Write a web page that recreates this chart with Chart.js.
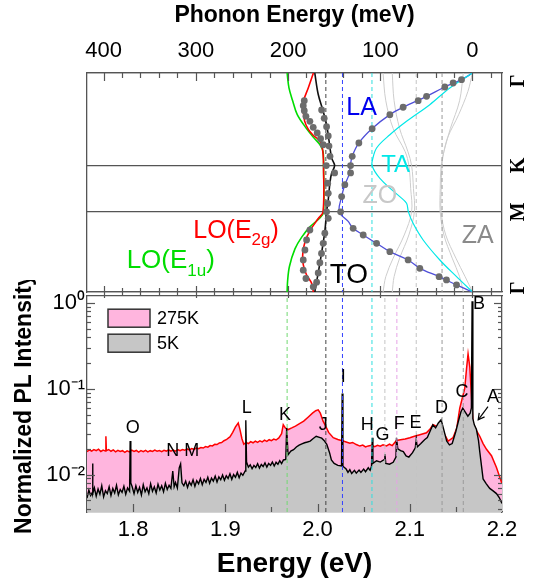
<!DOCTYPE html>
<html>
<head>
<meta charset="utf-8">
<script src="https://cdn.jsdelivr.net/npm/chart.js@4.4.1/dist/chart.umd.min.js"></script>
<style>
  html, body { margin: 0; padding: 0; background: #fff; }
  #wrap { position: relative; width: 535px; height: 587px; }
  #topBox { position: absolute; left: 0; top: 0; width: 535px; height: 300px; }
  #botBox { position: absolute; left: 0; top: 280px; width: 535px; height: 307px; }
</style>
</head>
<body>
<div id="wrap">
  <div id="topBox"><canvas id="topChart"></canvas></div>
  <div id="botBox"><canvas id="botChart"></canvas></div>
</div>
<script>
// --- axes / ticks ---
const E0 = 2.168;                       // eV, zero of the phonon energy scale (line B)
const eVTicks = [1.8, 1.9, 2.0, 2.1, 2.2];
const meVTicks = [0, 100, 200, 300, 400];
const logTicks = [1, 0.1, 0.01];
const logLabels = ['10⁰', '10⁻¹', '10⁻²'];
const kPoints = [0, 1, 1.5, 2.366];
const kLabels = ['Γ', 'K', 'M', 'Γ'];

// --- phonon dispersion, [k, meV] ---
const loE1u = [[0,201],[0.16,199],[0.3,195],[0.45,190],[0.6,180],[0.7,172],[0.78,165],[0.85,162],[1.0,161.5],[1.5,161.5],[1.56,165],[1.66,176],[1.77,185],[1.9,192.5],[2.09,198.5],[2.25,200.5],[2.366,201]];
const loE2g = [[0,172.5],[0.16,178],[0.31,183.5],[0.41,183.5],[0.52,182],[0.61,178],[0.67,173],[0.72,167],[0.78,163.5],[0.88,162],[1.0,161.5],[1.5,162],[1.57,167],[1.7,176],[1.82,181.5],[1.95,184],[2.07,183.5],[2.18,180],[2.27,174.5],[2.366,172.5]];
const toBranch = [[0,171],[0.23,167.3],[0.41,162],[0.56,158.2],[0.67,156.4],[0.81,154.5],[0.92,152.7],[1.0,149.5],[1.08,152.7],[1.18,154.5],[1.37,156.4],[1.5,158.2],[1.7,160],[1.95,163.7],[2.16,167.3],[2.366,171]];
const laBranch = [[0,0],[0.072,11.9],[0.151,30],[0.252,49.8],[0.37,75.2],[0.45,89.6],[0.6,108.8],[0.756,123.2],[0.9,130.4],[1.0,132.5],[1.1,134],[1.207,138.4],[1.335,141.9],[1.5,144.5],[1.6,135],[1.678,129.4],[1.75,118.5],[1.84,104],[1.93,89.6],[2.02,69.8],[2.11,57.1],[2.2,36.2],[2.29,17.3],[2.366,0]];
const taBranch = [[0,0],[0.162,24.6],[0.342,46.3],[0.522,71.5],[0.667,89.6],[0.81,104],[0.954,108.8],[1.0,108.8],[1.066,105.8],[1.138,100.4],[1.228,91.4],[1.336,78.8],[1.408,71.5],[1.5,69.5],[1.624,64.4],[1.804,53.5],[2.02,35.4],[2.2,17.3],[2.366,0]];
const zoBranchA = [[0,97],[0.3,94],[0.6,86],[0.85,73],[1.0,69],[1.25,67],[1.5,66],[1.75,74],[2.0,86],[2.2,94],[2.366,97]];
const zoBranchB = [[0,87],[0.3,85],[0.6,79],[0.85,70],[1.0,66],[1.25,64],[1.5,63],[1.75,69],[2.0,79],[2.2,85],[2.366,87]];
const zaBranchA = [[0,0],[0.2,5],[0.45,15],[0.7,27],[0.9,32],[1.0,33],[1.25,34],[1.5,34],[1.75,29],[2.0,18],[2.2,8],[2.366,0]];
const zaBranchB = [[0,10],[0.3,14],[0.6,24],[0.85,31],[1.0,34],[1.25,35],[1.5,35],[1.75,31],[2.0,22],[2.2,14],[2.366,10]];
const loDots = [[0.299,182.4],[0.353,183.5],[0.407,182.4],[0.468,180.6],[0.522,176.3],[0.587,172.7],[0.648,168.4],[0.71,164.7],[0.775,161.9],[1.696,176.3],[1.804,179.9],[1.912,181.7],[2.02,183.5],[2.13,183.5],[2.22,180.6],[2.31,172.7]];
const toDots = [[0.40,163.6],[0.49,160.8],[0.58,158.2],[0.68,156.4],[0.79,155.6],[0.90,154.5],[1.0,158.5],[1.08,149.5],[1.19,157],[1.30,156.4],[1.41,157.1],[1.5,158.2],[1.57,156.4],[1.73,160.1],[1.84,161.9],[1.95,163.7],[2.05,165.5],[2.16,167.3],[2.26,169]];
const laDots = [[0.072,11.9],[0.108,21],[0.151,30],[0.252,49.8],[0.299,58.9],[0.37,75.2],[0.45,89.6],[0.602,108.8],[0.756,123.2],[0.9,130.4],[1.0,132.2],[1.08,132.2],[1.207,138.4],[1.335,141.9],[1.5,143],[1.678,129.4],[1.75,118.5],[1.84,104],[1.93,89.6],[2.02,69.8],[2.11,57.1],[2.2,36.2],[2.236,28.2],[2.29,17.3]];

// phonon energies (meV) of the dashed guide lines
const phononLines = [201, 159, 141, 109, 95, 82, 61, 33, 10];

// --- PL spectra ---
const energy275 = [1.750,1.7525,1.755,1.7575,1.760,1.7625,1.765,1.7675,1.770,1.7705,1.771,1.7735,1.776,1.7785,1.781,1.7835,1.786,1.7885,1.791,1.7935,1.796,1.7985,1.801,1.8035,1.806,1.8085,1.811,1.8135,1.816,1.8185,1.821,1.8235,1.826,1.8285,1.831,1.8335,1.836,1.8385,1.841,1.8435,1.846,1.8485,1.851,1.8535,1.856,1.8585,1.861,1.8635,1.866,1.8685,1.871,1.8735,1.876,1.8785,1.881,1.8835,1.886,1.8885,1.891,1.8935,1.896,1.8985,1.901,1.9035,1.905,1.908,1.911,1.914,1.916,1.918,1.920,1.9225,1.925,1.9275,1.930,1.9325,1.935,1.9375,1.940,1.9425,1.945,1.9475,1.950,1.9525,1.955,1.958,1.961,1.9628,1.965,1.9682,1.972,1.976,1.980,1.985,1.990,1.9945,1.998,2.0007,2.003,2.006,2.008,2.012,2.017,2.022,2.0278,2.031,2.035,2.038,2.042,2.0459,2.049,2.052,2.055,2.0586,2.062,2.065,2.068,2.071,2.0748,2.078,2.081,2.0856,2.090,2.095,2.1001,2.105,2.110,2.1181,2.122,2.1253,2.130,2.1344,2.138,2.1416,2.147,2.151,2.1542,2.1596,2.1615,2.1632,2.1651,2.1669,2.1686,2.172,2.1759,2.1795,2.1832,2.1886,2.194,2.1976,2.2];
const pl275 = [0.0185,0.0194,0.0188,0.0196,0.0190,0.0198,0.0186,0.0193,0.0188,0.0280,0.0190,0.0196,0.0187,0.0194,0.0184,0.0192,0.0186,0.0190,0.0182,0.0189,0.0184,0.0193,0.0186,0.0191,0.0183,0.0190,0.0185,0.0192,0.0184,0.0190,0.0186,0.0193,0.0187,0.0191,0.0185,0.0192,0.0188,0.0194,0.0187,0.0193,0.0188,0.0195,0.0190,0.0196,0.0192,0.0199,0.0194,0.0201,0.0197,0.0204,0.0200,0.0207,0.0204,0.0212,0.0209,0.0218,0.0216,0.0225,0.0224,0.0234,0.0236,0.0248,0.0255,0.0268,0.0275,0.0310,0.0360,0.0400,0.0330,0.0262,0.0226,0.0238,0.0230,0.0242,0.0235,0.0246,0.0237,0.0248,0.0241,0.0252,0.0244,0.0255,0.0249,0.0259,0.0253,0.0268,0.0300,0.0382,0.0350,0.0335,0.0350,0.0368,0.0390,0.0420,0.0470,0.0520,0.0555,0.0569,0.0520,0.0420,0.0382,0.0310,0.0269,0.0256,0.0246,0.0240,0.0232,0.0237,0.0224,0.0215,0.0221,0.0210,0.0216,0.0220,0.0212,0.0219,0.0214,0.0222,0.0216,0.0226,0.0218,0.0250,0.0255,0.0260,0.0269,0.0280,0.0290,0.0307,0.0340,0.0382,0.0362,0.0350,0.0290,0.0246,0.0270,0.0350,0.0594,0.1010,0.1700,0.2550,0.1790,0.0810,0.0400,0.0330,0.0280,0.0230,0.0197,0.0166,0.0121,0.0093,0.0078];
const energy5 = [1.750,1.752,1.754,1.7555,1.7560,1.7565,1.758,1.760,1.762,1.764,1.766,1.768,1.770,1.772,1.774,1.776,1.778,1.780,1.782,1.784,1.786,1.788,1.790,1.792,1.794,1.7962,1.7968,1.7975,1.799,1.801,1.803,1.805,1.807,1.809,1.811,1.813,1.815,1.817,1.819,1.821,1.823,1.825,1.827,1.829,1.831,1.833,1.835,1.837,1.839,1.841,1.843,1.8445,1.846,1.848,1.850,1.8515,1.853,1.855,1.857,1.859,1.861,1.863,1.865,1.867,1.869,1.871,1.873,1.875,1.877,1.879,1.881,1.883,1.885,1.887,1.889,1.891,1.893,1.895,1.897,1.899,1.901,1.903,1.905,1.907,1.909,1.911,1.913,1.915,1.917,1.919,1.9215,1.9222,1.923,1.925,1.927,1.929,1.931,1.933,1.935,1.937,1.939,1.941,1.943,1.945,1.947,1.949,1.951,1.953,1.955,1.957,1.959,1.961,1.963,1.9655,1.9665,1.968,1.9710,1.9740,1.9770,1.9800,1.9830,1.9860,1.9890,1.9920,1.9950,1.9985,2.0020,2.0045,2.0070,2.0100,2.0130,2.0150,2.0180,2.0220,2.0260,2.0267,2.0275,2.0310,2.0330,2.0350,2.0370,2.0400,2.0420,2.0450,2.0470,2.0500,2.0520,2.0550,2.0570,2.0585,2.0593,2.0600,2.0640,2.0680,2.0725,2.0730,2.0740,2.0780,2.0820,2.0850,2.0856,2.0870,2.0900,2.0930,2.0960,2.0990,2.1030,2.1060,2.1070,2.1080,2.1120,2.1160,2.1190,2.1220,2.1250,2.1280,2.1310,2.1340,2.1370,2.1400,2.1430,2.1460,2.1500,2.1530,2.1555,2.1575,2.1600,2.1630,2.1655,2.1668,2.1676,2.1684,2.1700,2.1723,2.1745,2.1760,2.1795,2.1830,2.1867,2.1900,2.1940,2.1970,2.2000];
const pl5 = [0.0053,0.0066,0.0057,0.0061,0.0135,0.0060,0.0070,0.0056,0.0068,0.0059,0.0074,0.0055,0.0065,0.0060,0.0072,0.0057,0.0069,0.0061,0.0075,0.0058,0.0067,0.0062,0.0073,0.0059,0.0070,0.0064,0.0247,0.0080,0.0072,0.0060,0.0074,0.0062,0.0071,0.0058,0.0076,0.0063,0.0070,0.0060,0.0078,0.0064,0.0072,0.0061,0.0077,0.0066,0.0074,0.0063,0.0079,0.0067,0.0075,0.0069,0.0110,0.0072,0.0081,0.0070,0.0120,0.0133,0.0080,0.0074,0.0084,0.0071,0.0082,0.0075,0.0087,0.0073,0.0085,0.0078,0.0090,0.0076,0.0088,0.0081,0.0093,0.0079,0.0091,0.0084,0.0096,0.0082,0.0094,0.0087,0.0099,0.0086,0.0097,0.0090,0.0102,0.0088,0.0100,0.0093,0.0106,0.0092,0.0104,0.0098,0.0110,0.0430,0.0140,0.0122,0.0130,0.0117,0.0128,0.0121,0.0134,0.0119,0.0131,0.0124,0.0137,0.0122,0.0135,0.0128,0.0140,0.0126,0.0139,0.0132,0.0145,0.0134,0.0148,0.0150,0.0350,0.0170,0.0188,0.0195,0.0210,0.0220,0.0228,0.0235,0.0240,0.0246,0.0262,0.0280,0.0272,0.0266,0.0250,0.0225,0.0180,0.0148,0.0135,0.0128,0.0126,0.0880,0.0125,0.0116,0.0106,0.0114,0.0103,0.0112,0.0104,0.0113,0.0106,0.0116,0.0108,0.0120,0.0112,0.0125,0.0269,0.0135,0.0145,0.0140,0.0150,0.0173,0.0135,0.0132,0.0139,0.0160,0.0269,0.0200,0.0190,0.0185,0.0165,0.0160,0.0180,0.0205,0.0260,0.0210,0.0230,0.0255,0.0270,0.0320,0.0380,0.0350,0.0400,0.0437,0.0330,0.0246,0.0222,0.0230,0.0320,0.0430,0.0540,0.0594,0.0540,0.0480,0.0520,0.0600,1.0500,0.0450,0.0380,0.0335,0.0250,0.0180,0.0089,0.0078,0.0069,0.0065,0.0060,0.0054,0.0046];

// --- peak labels (E, intensity) ---
const peakNames = ['O','N','M','L','K','J','I','H','G','F','E','D','C','B','A'];
const peakLabelE = [1.7996,1.843,1.8635,1.9231,1.9646,2.0061,2.0278,2.0538,2.0705,2.0885,2.1062,2.1344,2.1567,2.1751,2.1903];
const peakLabelI = [0.035,0.0189,0.0189,0.0605,0.0499,0.0383,0.1374,0.0383,0.0288,0.0389,0.0399,0.0605,0.0924,0.98,0.081];

// --- styles ---
const FONT = "'Liberation Sans', Arial, sans-serif";
Chart.defaults.font.family = FONT;
Chart.defaults.color = '#000';
const AX = { color: '#555', width: 1.3 };
const phononLineStyle = [
  { c: '#72d872', top: false }, { c: '#444', top: true }, { c: '#3340ff', top: true },
  { c: '#30dede', top: true }, { c: '#c4c4c4', top: false }, { c: '#e6a3e6', top: false },
  { c: '#c4c4c4', top: true }, { c: '#9a9a9a', top: true }, { c: '#9a9a9a', top: false }
];

const meVMin = (E0 - 2.2) * 1000, meVMax = (E0 - 1.75) * 1000;
const kEnd = kPoints[kPoints.length - 1];
const yMin = 0.00366, yMax = 1.236;

// ===== top panel: phonon dispersion =====
function branch(pairs, color, width, order) {
  return {
    data: pairs.map(p => ({ x: p[1], y: p[0] })),
    borderColor: color, borderWidth: width, pointRadius: 0,
    tension: 0.35, fill: false, order, xAxisID: 'xm', yAxisID: 'k'
  };
}
function dots(pairs) {
  return {
    data: pairs.map(p => ({ x: p[1], y: p[0] })),
    showLine: false, pointRadius: 3.4, pointBackgroundColor: '#6c6c6c',
    pointBorderWidth: 0, order: 0, xAxisID: 'xm', yAxisID: 'k'
  };
}
const topSets = [];
[zoBranchA, zoBranchB, zaBranchA, zaBranchB].forEach(b => topSets.push(branch(b, '#cdcdcd', 1, 5)));
phononLines.forEach((v, i) => {
  if (!phononLineStyle[i].top) return;
  topSets.push({
    data: [{ x: v, y: 0 }, { x: v, y: kEnd }], borderColor: phononLineStyle[i].c,
    borderWidth: 1, borderDash: [4, 3], pointRadius: 0, order: 4, xAxisID: 'xm', yAxisID: 'k'
  });
});
topSets.push(branch(taBranch, '#00e8e8', 1.2, 2));
topSets.push(branch(laBranch, '#4f4fd8', 1.3, 2));
topSets.push(branch(loE1u, '#00dd00', 1.6, 2));
topSets.push(branch(loE2g, '#ff0000', 1.6, 1));
topSets.push(branch(toBranch, '#111', 1.6, 1));
topSets.push(dots(loDots), dots(toDots), dots(laDots));

function subText(ctx, parts, x, y, big, small) {
  let cx = x;
  parts.forEach(p => {
    ctx.font = (p.sub ? small : big) + 'px ' + FONT;
    ctx.fillText(p.t, cx, p.sub ? y + big * 0.28 : y);
    cx += ctx.measureText(p.t).width;
  });
}

const topDecor = {
  id: 'topDecor',
  afterDraw(chart) {
    const { ctx, chartArea: a, scales } = chart;
    const xs = scales.xm, ks = scales.kr;
    ctx.save();
    ctx.strokeStyle = AX.color; ctx.lineWidth = 1.2;
    for (let v = -20; v <= 400; v += 20) {
      const px = Math.round(xs.getPixelForValue(v)) + 0.5;
      const major = v % 100 === 0;
      ctx.beginPath(); ctx.moveTo(px, a.top); ctx.lineTo(px, a.top + (major ? 8 : 5)); ctx.stroke();
      ctx.beginPath(); ctx.moveTo(px, a.bottom - (major ? 6 : 4)); ctx.lineTo(px, a.bottom + (major ? 6 : 3)); ctx.stroke();
    }
    // branch names
    const P = (m, k) => [xs.getPixelForValue(m), ks.getPixelForValue(k)];
    ctx.textBaseline = 'alphabetic'; ctx.textAlign = 'center';
    const names = [
      ['LA', 120.3, 0.454, '#0000ee', 25], ['TA', 83.3, 1.066, '#00e8e8', 24],
      ['ZO', 100.4, 1.408, '#c8c8c8', 25], ['ZA', -5.7, 1.84, '#8a8a8a', 25],
      ['TO', 134, 2.269, '#000', 28]
    ];
    names.forEach(n => {
      const [px, py] = P(n[1], n[2]);
      ctx.fillStyle = n[3]; ctx.font = n[4] + 'px ' + FONT;
      ctx.fillText(n[0], px, py);
    });
    ctx.textAlign = 'left';
    let [px, py] = P(302.8, 1.783);
    ctx.fillStyle = '#ff0000';
    subText(ctx, [{ t: 'LO(E' }, { t: '2g', sub: true }, { t: ')' }], px, py, 25, 17);
    [px, py] = P(375, 2.11);
    ctx.fillStyle = '#00dd00';
    subText(ctx, [{ t: 'LO(E' }, { t: '1u', sub: true }, { t: ')' }], px, py, 26, 17);
    // high-symmetry points on the right
    ctx.fillStyle = '#000'; ctx.textAlign = 'center'; ctx.textBaseline = 'middle';
    ctx.font = "bold 20px 'Liberation Serif', serif";
    kPoints.forEach((k, i) => {
      const y = Math.min(Math.max(ks.getPixelForValue(k), a.top + 8), a.bottom - 4);
      ctx.save(); ctx.translate(a.right + 17, y); ctx.rotate(-Math.PI / 2);
      ctx.fillText(kLabels[i], 0, 0); ctx.restore();
    });
    ctx.restore();
  }
};

new Chart(document.getElementById('topChart'), {
  type: 'line',
  data: { datasets: topSets },
  options: {
    responsive: true, maintainAspectRatio: false, animation: false, events: [],
    indexAxis: 'y',
    layout: { padding: { left: 0, right: 0, top: 0, bottom: 8 } },
    plugins: { legend: { display: false }, tooltip: { enabled: false } },
    scales: {
      xm: {
        type: 'linear', axis: 'x', position: 'top', reverse: true, min: meVMin, max: meVMax,
        afterBuildTicks: s => { s.ticks = meVTicks.map(v => ({ value: v })); },
        ticks: { font: { size: 22 }, color: '#000', padding: 9, maxRotation: 0 },
        grid: { display: false, drawTicks: false }, border: AX,
        title: { display: true, text: 'Phonon Energy (meV)', color: '#000', font: { size: 23, weight: 'bold' }, padding: { top: 2, bottom: 0 } },
        afterFit: s => { s.height = 73; }
      },
      xb: {
        type: 'linear', axis: 'x', position: 'bottom', reverse: true, min: meVMin, max: meVMax,
        ticks: { display: false }, grid: { display: false, drawTicks: false }, border: AX,
        afterFit: s => { s.height = 0; }
      },
      k: {
        type: 'linear', axis: 'y', position: 'left', reverse: true, min: 0, max: kEnd,
        ticks: { display: false }, grid: { display: false, drawTicks: false }, border: AX,
        afterFit: s => { s.width = 87; }
      },
      kr: {
        type: 'linear', axis: 'y', position: 'right', reverse: true, min: 0, max: kEnd,
        afterBuildTicks: s => { s.ticks = kPoints.map(v => ({ value: v })); },
        ticks: { display: false }, grid: { display: true, drawTicks: false, color: '#555', lineWidth: 1.3 }, border: AX,
        afterFit: s => { s.width = 33; }
      }
    }
  },
  plugins: [topDecor]
});

// ===== bottom panel: PL spectra =====
const botSets = [
  {
    data: energy275.map((e, i) => ({ x: e, y: pl275[i] })), borderColor: '#ff0000', borderWidth: 1.5,
    backgroundColor: '#ffb5de', fill: 'start', pointRadius: 0, order: 2
  },
  {
    data: energy5.map((e, i) => ({ x: e, y: pl5[i] })), borderColor: '#000', borderWidth: 1.4,
    backgroundColor: '#c6c6c6', fill: 'start', pointRadius: 0, order: 1
  }
];
phononLines.forEach((v, i) => {
  const e = E0 - v / 1000;
  botSets.push({
    data: [{ x: e, y: yMin }, { x: e, y: yMax }], borderColor: phononLineStyle[i].c,
    borderWidth: 1, borderDash: [4, 3], pointRadius: 0, fill: false, order: 0
  });
});

const botDecor = {
  id: 'botDecor',
  afterDraw(chart) {
    const { ctx, chartArea: a, scales } = chart;
    const xs = scales.x, ys = scales.y;
    ctx.save();
    ctx.strokeStyle = AX.color; ctx.lineWidth = 1.2;
    for (let i = 36; i < 44; i++) {
      const px = Math.round(xs.getPixelForValue(i * 0.05)) + 0.5;
      const len = i % 2 === 0 ? 8 : 5;
      ctx.beginPath(); ctx.moveTo(px, a.bottom); ctx.lineTo(px, a.bottom - len); ctx.stroke();
    }
    [0.001, 0.01, 0.1, 1].forEach(d => {
      for (let m = 1; m <= 9; m++) {
        const v = m * d;
        if (v < yMin || v > yMax) continue;
        const py = Math.round(ys.getPixelForValue(v)) + 0.5;
        const len = m === 1 ? 8 : 4;
        ctx.beginPath(); ctx.moveTo(a.left, py); ctx.lineTo(a.left + len, py); ctx.stroke();
        ctx.beginPath(); ctx.moveTo(a.right, py); ctx.lineTo(a.right - len, py); ctx.stroke();
      }
    });
    // peak letters
    ctx.fillStyle = '#000'; ctx.font = '18px ' + FONT;
    ctx.textAlign = 'center'; ctx.textBaseline = 'middle';
    peakNames.forEach((n, i) => {
      ctx.fillText(n, xs.getPixelForValue(peakLabelE[i]), ys.getPixelForValue(peakLabelI[i]));
    });
    // arrow to A
    const x1 = xs.getPixelForValue(2.1848), y1 = ys.getPixelForValue(0.0619);
    const x2 = xs.getPixelForValue(2.1742), y2 = ys.getPixelForValue(0.0435);
    ctx.strokeStyle = '#000'; ctx.lineWidth = 1.2;
    ctx.beginPath(); ctx.moveTo(x1, y1); ctx.lineTo(x2, y2); ctx.stroke();
    const ang = Math.atan2(y2 - y1, x2 - x1);
    ctx.beginPath();
    ctx.moveTo(x2 - 7 * Math.cos(ang - 0.5), y2 - 7 * Math.sin(ang - 0.5));
    ctx.lineTo(x2, y2);
    ctx.lineTo(x2 - 7 * Math.cos(ang + 0.5), y2 - 7 * Math.sin(ang + 0.5));
    ctx.stroke();
    // legend
    const items = [['275K', '#ffb5de'], ['5K', '#c6c6c6']];
    ctx.font = '18px ' + FONT; ctx.textAlign = 'left';
    items.forEach((it, i) => {
      const bx = a.left + 21, by = a.top + 14 + i * 25;
      ctx.fillStyle = it[1]; ctx.fillRect(bx, by, 42, 18);
      ctx.strokeStyle = '#333'; ctx.lineWidth = 1.5; ctx.strokeRect(bx, by, 42, 18);
      ctx.fillStyle = '#000'; ctx.fillText(it[0], bx + 49, by + 10);
    });
    ctx.restore();
  }
};

new Chart(document.getElementById('botChart'), {
  type: 'line',
  data: { datasets: botSets },
  options: {
    responsive: true, maintainAspectRatio: false, animation: false, events: [],
    layout: { padding: { left: 0, right: 0, top: 12, bottom: 0 } },
    plugins: { legend: { display: false }, tooltip: { enabled: false } },
    scales: {
      x: {
        type: 'linear', position: 'bottom', min: 1.75, max: 2.2,
        afterBuildTicks: s => { s.ticks = eVTicks.map(v => ({ value: v })); },
        ticks: { font: { size: 22 }, color: '#000', padding: 5, maxRotation: 0, callback: v => v.toFixed(1) },
        grid: { display: false, drawTicks: false }, border: AX,
        title: { display: true, text: 'Energy (eV)', color: '#000', font: { size: 28, weight: 'bold' }, padding: { top: 0, bottom: 6 } },
        afterFit: s => { s.height = 75; }
      },
      xt: {
        type: 'linear', axis: 'x', position: 'top', min: 1.75, max: 2.2,
        ticks: { display: false }, grid: { display: false, drawTicks: false }, border: AX,
        afterFit: s => { s.height = 0; }
      },
      y: {
        type: 'logarithmic', position: 'left', min: yMin, max: yMax,
        afterBuildTicks: s => { s.ticks = logTicks.map(v => ({ value: v })); },
        ticks: { font: { size: 22 }, color: '#000', padding: 2, callback: v => logLabels[logTicks.indexOf(v)] },
        grid: { display: false, drawTicks: false }, border: AX,
        title: { display: true, text: 'Normalized PL Intensity', color: '#000', font: { size: 23, weight: 'bold' }, padding: { top: 11, bottom: 0 } },
        afterFit: s => { s.width = 87; }
      },
      yr: {
        type: 'logarithmic', axis: 'y', position: 'right', min: yMin, max: yMax,
        ticks: { display: false }, grid: { display: false, drawTicks: false }, border: AX,
        afterFit: s => { s.width = 33; }
      }
    }
  },
  plugins: [botDecor]
});
</script>
</body>
</html>
